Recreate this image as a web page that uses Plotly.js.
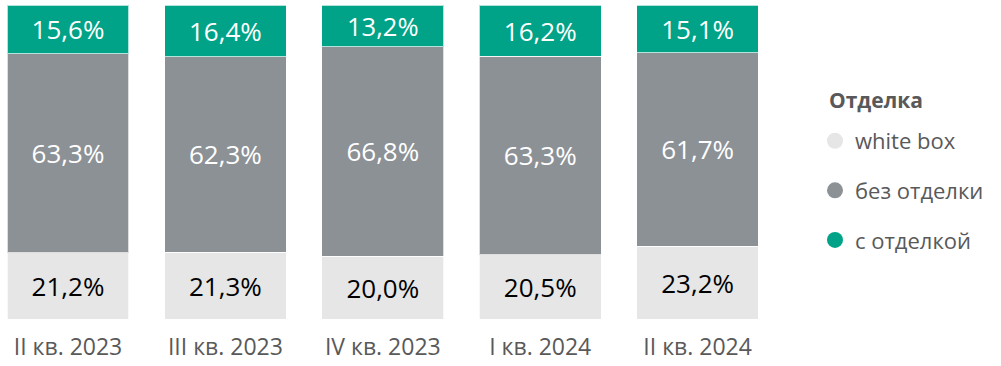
<!DOCTYPE html>
<html><head><meta charset="utf-8">
<script src="https://cdn.plot.ly/plotly-3.0.1.min.js"></script>
<style>html,body{margin:0;padding:0;background:#fff}</style>
</head><body><div id="chart" style="width:1001px;height:366px"></div>
<script>
const categories = ["II кв. 2023", "III кв. 2023", "IV кв. 2023", "I кв. 2024", "II кв. 2024"];
const whiteBox = [21.2, 21.3, 20.0, 20.5, 23.2];
const bezOtdelki = [63.3, 62.3, 66.8, 63.3, 61.7];
const sOtdelkoy = [15.6, 16.4, 13.2, 16.2, 15.1];
const seriesNames = ["white box", "без отделки", "с отделкой"];
const legendTitle = "Отделка";

const colors = ["#E6E6E6", "#8C9196", "#00A387"];
const textColors = ["#000000", "#FFFFFF", "#FFFFFF"];
const fmt = v => v.toFixed(1).replace('.', ',') + '%';
const FONT = "Open Sans, sans-serif";

const seriesVals = [whiteBox, bezOtdelki, sOtdelkoy];
const traces = [];
seriesVals.forEach((vals, i) => {
  traces.push({
    type: 'bar', x: categories, y: vals, name: seriesNames[i],
    text: vals.map(fmt), textposition: 'inside', insidetextanchor: 'middle',
    textfont: {family: FONT, size: 26, color: textColors[i]},
    marker: {color: colors[i], line: {color: 'rgba(255,255,255,0.7)', width: 1}},
    showlegend: false, hoverinfo: 'skip', width: 0.773
  });
});
seriesVals.forEach((vals, i) => {
  traces.push({
    type: 'scatter', mode: 'markers', x: [null], y: [null], name: seriesNames[i],
    marker: {color: colors[i], size: 20, symbol: 'circle'},
    legendgroup: 'g' + i, showlegend: true
  });
});

const layout = {
  width: 1001, height: 366,
  margin: {l: 0, r: 211, t: 5, b: 47},
  barmode: 'stack', bargap: 0.227,
  paper_bgcolor: '#fff', plot_bgcolor: '#fff',
  xaxis: {type: 'category', range: [-0.432, 4.587], showgrid: false, zeroline: false, showline: false,
          ticks: '', ticklabelstandoff: 12, tickfont: {family: FONT, size: 23, color: '#595959'}, fixedrange: true},
  yaxis: {range: [0, 100.1], visible: false, fixedrange: true},
  showlegend: true,
  legend: {
    x: 815 / 790, xanchor: 'left', y: 0.634, yanchor: 'top',
    traceorder: 'grouped', tracegroupgap: 18, itemwidth: 30,
    font: {family: FONT, size: 22, color: '#595959'}
  },
  annotations: [{
    xref: 'paper', yref: 'paper', x: 827 / 790, y: 0.697, xanchor: 'left', yanchor: 'middle',
    text: '<b>' + legendTitle + '</b>', showarrow: false,
    font: {family: FONT, size: 21, color: '#595959'}
  }],
  font: {family: FONT}
};
Plotly.newPlot('chart', traces, layout, {displayModeBar: false, staticPlot: true});
</script></body></html>
